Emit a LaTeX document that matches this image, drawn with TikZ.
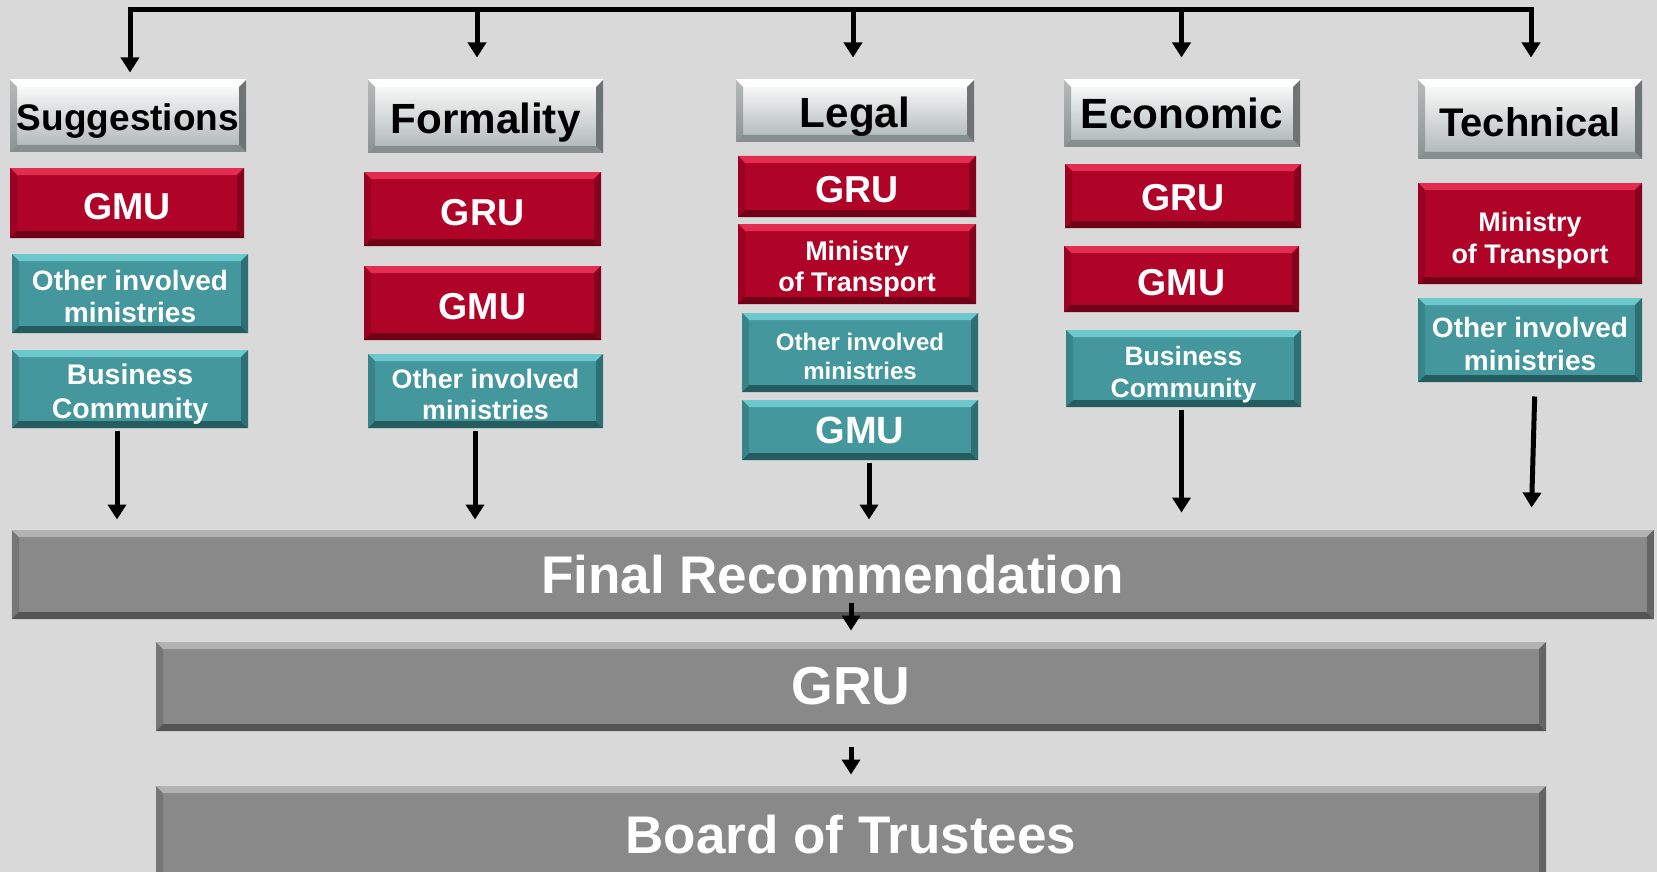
\documentclass[tikz,border=0pt]{standalone}
\usepackage{fontspec}
\setmainfont{Liberation Sans}
\usetikzlibrary{arrows.meta}
\definecolor{bggray}{RGB}{217,217,217}
\definecolor{redbox}{RGB}{176,3,40}
\definecolor{redtop}{RGB}{226,45,80}
\definecolor{reddark}{RGB}{112,0,22}
\definecolor{redside}{RGB}{135,0,28}
\definecolor{tealbox}{RGB}{68,152,157}
\definecolor{tealtop}{RGB}{108,200,205}
\definecolor{tealdark}{RGB}{36,92,96}
\definecolor{tealside}{RGB}{45,112,116}
\definecolor{greybox}{RGB}{137,137,137}
\definecolor{greytop}{RGB}{178,178,178}
\definecolor{greydark}{RGB}{84,84,84}
\definecolor{greyside}{RGB}{100,100,100}
\definecolor{hdrbottom}{RGB}{172,180,180}
\definecolor{hdrdark}{RGB}{135,142,142}
\definecolor{hdrside}{RGB}{110,116,116}

\tikzset{
  bevel/.style n args={3}{path picture={
    \path (path picture bounding box.north west) coordinate (nw)
          (path picture bounding box.north east) coordinate (ne)
          (path picture bounding box.south west) coordinate (sw)
          (path picture bounding box.south east) coordinate (se);
    \fill[#1] (nw) -- (ne) -- ([shift={(-7pt,-7pt)}]ne) -- ([shift={(7pt,-7pt)}]nw) -- cycle;
    \fill[#2] (sw) -- (se) -- ([shift={(-7pt,7pt)}]se) -- ([shift={(7pt,7pt)}]sw) -- cycle;
    \fill[#3] (ne) -- (se) -- ([shift={(-7pt,7pt)}]se) -- ([shift={(-7pt,-7pt)}]ne) -- cycle;
    \fill[#3,opacity=.5] (nw) -- (sw) -- ([shift={(7pt,7pt)}]sw) -- ([shift={(7pt,-7pt)}]nw) -- cycle;
  }},
  fs/.style 2 args={font=\fontsize{#1}{#2}\selectfont\bfseries}
}

\begin{document}
\begin{tikzpicture}[x=1pt,y=-1pt
  ,->,>={Triangle[length=15pt,width=18pt]}
  ,line width=5pt]
  \tikzstyle{box}=[inner sep=0pt,align=center,text=white]
  \tikzstyle{hdr}=[box,text=black,top color=white,bottom color=hdrbottom
                   ,bevel={white}{hdrdark}{hdrside}]
  \tikzstyle{redb}=[box,fill=redbox,bevel={redtop}{reddark}{redside}]
  \tikzstyle{tealb}=[box,fill=tealbox,bevel={tealtop}{tealdark}{tealside}]
  \tikzstyle{greyb}=[box,fill=greybox,bevel={greytop}{greydark}{greyside}]

  \useasboundingbox (0,0) rectangle (1657,872);
  \clip (0,0) rectangle (1657,872);
  \fill[bggray] (0,0) rectangle (1657,872);

  \node[hdr,fs={37}{42},text height=37pt,minimum width=236pt,minimum height=72pt] (sugg) at (128,116) {Suggestions};
  \node[hdr,fs={42.2}{47},text height=42.8pt,minimum width=235pt,minimum height=73pt] (form) at (485.5,116.5) {Formality};
  \node[hdr,fs={42.2}{47},text height=42.8pt,minimum width=238pt,minimum height=62pt] (legal) at (855,111) {Legal};
  \node[hdr,fs={42.3}{47},minimum width=236pt,minimum height=67pt] (econ) at (1182,113.5) {Economic};
  \node[hdr,fs={40}{45},text height=35.2pt,minimum width=224pt,minimum height=79pt] (tech) at (1530,119.5) {Technical};

  \node[redb,fs={37.5}{42},text height=32.5pt,minimum width=234pt,minimum height=70pt] (gmuA) at (127,203) {GMU};
  \node[tealb,fs={28}{32},text height=58.4pt,minimum width=236pt,minimum height=79pt] (othA) at (130,293.5) {Other involved\\ministries};
  \node[tealb,fs={28.4}{34},text height=63.9pt,minimum width=236pt,minimum height=78pt] (bizA) at (130,389) {Business\\Community};

  \node[redb,fs={37.5}{42},text height=32.5pt,minimum width=237pt,minimum height=74pt] (gruB) at (482.5,209) {GRU};
  \node[redb,fs={37.5}{42},text height=32.5pt,minimum width=237pt,minimum height=74pt] (gmuB) at (482.5,303) {GMU};
  \node[tealb,fs={26.8}{31},text height=56.6pt,minimum width=235pt,minimum height=74pt] (othB) at (485.5,391) {Other involved\\ministries};

  \node[redb,fs={37.5}{42},text height=32.5pt,minimum width=238pt,minimum height=61pt] (gruC) at (857,186.5) {GRU};
  \node[redb,fs={27}{31.5},text height=61.4pt,minimum width=238pt,minimum height=80pt] (motC) at (857,264) {Ministry\\of Transport};
  \node[tealb,fs={24}{29},text height=53.6pt,minimum width=236pt,minimum height=79pt] (othC) at (860,352.5) {Other involved\\ministries};
  \node[tealb,fs={38}{42},minimum width=236pt,minimum height=60pt] (gmuC) at (860,430) {GMU};

  \node[redb,fs={37.5}{42},text height=30pt,minimum width=236pt,minimum height=64pt] (gruD) at (1183,196) {GRU};
  \node[redb,fs={37.5}{42},text height=32.5pt,minimum width=235pt,minimum height=66pt] (gmuD) at (1181.5,279) {GMU};
  \node[tealb,fs={26.5}{32},text height=63.7pt,minimum width=235pt,minimum height=77pt] (bizD) at (1183.5,368.5) {Business\\Community};

  \node[redb,fs={26.9}{32},text height=66.1pt,minimum width=224pt,minimum height=101pt] (motE) at (1530,233.5) {Ministry\\of Transport};
  \node[tealb,fs={28}{33},text height=60.5pt,minimum width=224pt,minimum height=84pt] (othE) at (1530,340) {Other involved\\ministries};

  \node[greyb,fs={53}{58},minimum width=1642pt,minimum height=89pt] (final) at (832.75,574.5) {Final Recommendation};
  \node[greyb,fs={53.5}{58},minimum width=1390pt,minimum height=89pt] (gru) at (851,686.5) {GRU};
  \node[greyb,fs={53}{58},minimum width=1390pt,minimum height=98pt] (board) at (851,835) {Board of Trustees};

  \coordinate (tA) at (130,10);
  \coordinate (tB) at (477,10);
  \coordinate (tC) at (853,10);
  \coordinate (tD) at (1181.5,10);
  \coordinate (tE) at (1531,10);
  \draw[-,line cap=rect] (tA) -- (tE);
  \draw[shorten >=5pt] (tA) -- (tA |- sugg.north);
  \draw[shorten >=20pt] (tB) -- (tB |- form.north);
  \draw[shorten >=20pt] (tC) -- (tC |- legal.north);
  \draw[shorten >=20pt] (tD) -- (tD |- econ.north);
  \draw[shorten >=20pt] (tE) -- (tE |- tech.north);

  \path ([xshift=-13pt]bizA.south) coordinate (bA)
        ([xshift=-10.5pt]othB.south) coordinate (bB)
        ([xshift=9pt]gmuC.south) coordinate (bC)
        ([xshift=-2pt]bizD.south) coordinate (bD)
        ([xshift=5pt]othE.south) coordinate (bE1)
        ([xshift=1pt]othE.south) coordinate (bE2);
  \draw[shorten >=8pt] (bA) -- (bA |- final.north);
  \draw[shorten >=8pt] (bB) -- (bB |- final.north);
  \draw[shorten >=8pt] (bC) -- (bC |- final.north);
  \draw[shorten >=15pt] (bD) -- (bD |- final.north);
  \draw[shorten <=12pt,shorten >=20pt] (bE1) -- (bE2 |- final.north);

  \coordinate (fg) at (final.south -| gru.north);
  \draw[shorten >=9pt] ([yshift=19pt]fg) -- (gru.north);
  \draw[shorten <=13pt,shorten >=9pt] (gru.south) -- (board.north);
\end{tikzpicture}
\end{document}
